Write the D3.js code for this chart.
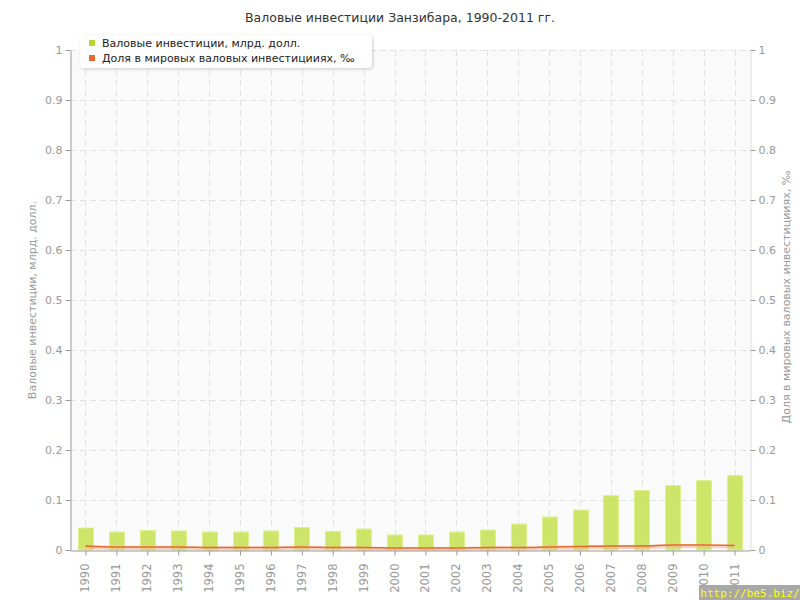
<!DOCTYPE html>
<html><head><meta charset="utf-8">
<script src="https://cdn.jsdelivr.net/npm/d3@7/dist/d3.min.js"></script>
<style>body{margin:0;background:#fff;} svg{display:block;font-family:"DejaVu Sans",Verdana,sans-serif;}</style>
</head><body>
<svg id="c" width="800" height="600"></svg>
<script>
const years = ["1990","1991","1992","1993","1994","1995","1996","1997","1998","1999","2000","2001","2002","2003","2004","2005","2006","2007","2008","2009","2010","2011"];
const investments = [0.045,0.037,0.040,0.039,0.037,0.037,0.039,0.046,0.038,0.043,0.031,0.031,0.037,0.041,0.053,0.067,0.081,0.110,0.120,0.130,0.140,0.150];
const share = [0.008,0.006,0.006,0.006,0.005,0.005,0.005,0.006,0.005,0.005,0.004,0.004,0.004,0.005,0.005,0.006,0.007,0.008,0.008,0.010,0.010,0.009];
const yTicks = [0,0.1,0.2,0.3,0.4,0.5,0.6,0.7,0.8,0.9,1];
const title = "Валовые инвестиции Занзибара, 1990-2011 гг.";
const seriesNames = ["Валовые инвестиции, млрд. долл.","Доля в мировых валовых инвестицииях, ‰"];
const leftTitle = "Валовые инвестиции, млрд. долл.";
const rightTitle = "Доля в мировых валовых инвестицииях, ‰";

const svg = d3.select("#c");
const L=70,R=750,T=50,B=550;
const x = d3.scaleBand().domain(years).range([L,R]).padding(0);
const y = d3.scaleLinear().domain([0,1]).range([B,T]);
const y2 = d3.scaleLinear().domain([0,1]).range([B,T]);

svg.append("rect").attr("x",L).attr("y",T).attr("width",R-L).attr("height",B-T).attr("fill","#fafafa");

// grid
svg.append("g").selectAll("line").data(yTicks.slice(1)).join("line")
  .attr("x1",L).attr("x2",R).attr("y1",d=>y(d)+0.5).attr("y2",d=>y(d)+0.5)
  .attr("stroke","#e2e2e2").attr("stroke-dasharray","6,4");
svg.append("g").selectAll("line").data(years).join("line")
  .attr("x1",d=>Math.round(x(d)+x.bandwidth()/2)+0.5).attr("x2",d=>Math.round(x(d)+x.bandwidth()/2)+0.5)
  .attr("y1",T).attr("y2",B).attr("stroke","#e2e2e2").attr("stroke-dasharray","6,4");

// bars
const bw = 15;
svg.append("g").selectAll("rect").data(investments).join("rect")
  .attr("x",(d,i)=>Math.round(x(years[i])+x.bandwidth()/2-bw/2)+0.5)
  .attr("y",d=>y(d)+0.5).attr("width",bw).attr("height",d=>B-y(d)-0.5)
  .attr("fill","#c9e25a").attr("fill-opacity",0.9).attr("stroke","#dff08f").attr("stroke-width",1);

// line shadow + line
const line = d3.line().x((d,i)=>x(years[i])+x.bandwidth()/2).y(d=>y2(d)).curve(d3.curveMonotoneX);
svg.append("path").datum(share).attr("d",line).attr("fill","none").attr("stroke","#f3b79a").attr("stroke-width",4).attr("stroke-opacity",0.6).attr("transform","translate(0,1)");
svg.append("path").datum(share).attr("d",line).attr("fill","none").attr("stroke","#e8692f").attr("stroke-width",1.5);

// axes
const axL = svg.append("g").attr("transform",`translate(${L+0.5},0)`).call(d3.axisLeft(y).tickValues(yTicks).tickFormat(d3.format("~g")).tickSize(5).tickSizeOuter(0));
const axR = svg.append("g").attr("transform",`translate(${R+0.5},0)`).call(d3.axisRight(y2).tickValues(yTicks).tickFormat(d3.format("~g")).tickSize(5).tickSizeOuter(0));
const axB = svg.append("g").attr("transform",`translate(0,${B+0.5})`).call(d3.axisBottom(x).tickSize(5).tickSizeOuter(0));
axL.select(".domain").attr("stroke","#999");
axR.select(".domain").attr("stroke","#ddd");
axB.select(".domain").attr("stroke","#999");
[axL,axR,axB].forEach(a=>{a.selectAll(".tick line").attr("stroke","#999");a.selectAll("text").attr("fill","#999").attr("font-size",11).attr("font-family","DejaVu Sans");});
axB.selectAll(".tick text").attr("transform","rotate(-90)").attr("text-anchor","end").attr("x",-13).attr("y",0).attr("dy","0.35em").attr("font-size",11.5);
axB.selectAll(".tick line").attr("transform","translate(0.5,0)");

// title
svg.append("text").attr("x",400).attr("y",22).attr("text-anchor","middle").attr("font-size",12.5).attr("fill","#333").text(title);

// axis titles
svg.append("text").attr("transform","translate(36,300) rotate(-90)").attr("text-anchor","middle").attr("font-size",11).attr("fill","#999").text(leftTitle);
svg.append("text").attr("transform","translate(790,297) rotate(-90)").attr("text-anchor","middle").attr("font-size",11).attr("fill","#999").text(rightTitle);

// legend
const defs = svg.append("defs");
const f = defs.append("filter").attr("id","sh").attr("x","-10%").attr("y","-30%").attr("width","120%").attr("height","160%");
f.append("feDropShadow").attr("dx",1).attr("dy",1).attr("stdDeviation",1.5).attr("flood-color","#000").attr("flood-opacity",0.2);
const lg = svg.append("g");
lg.append("rect").attr("x",80).attr("y",35).attr("width",292).attr("height",33).attr("rx",4).attr("fill","#fff").attr("filter","url(#sh)");
const colors=["#b5d630","#e8692f"];
seriesNames.forEach((s,i)=>{
  lg.append("rect").attr("x",89).attr("y",40+i*15).attr("width",6).attr("height",6).attr("fill",colors[i]);
  lg.append("text").attr("x",102).attr("y",46.5+i*15).attr("font-size",11).attr("fill","#222").text(s);
});

// watermark
svg.append("rect").attr("x",699).attr("y",585).attr("width",101).attr("height",15).attr("fill","#a8a8a8");
svg.append("text").attr("x",750).attr("y",597).attr("text-anchor","middle").attr("font-family","DejaVu Sans Mono").attr("font-size",11).attr("fill","#ffff00").text("http://be5.biz/");
</script>
</body></html>
